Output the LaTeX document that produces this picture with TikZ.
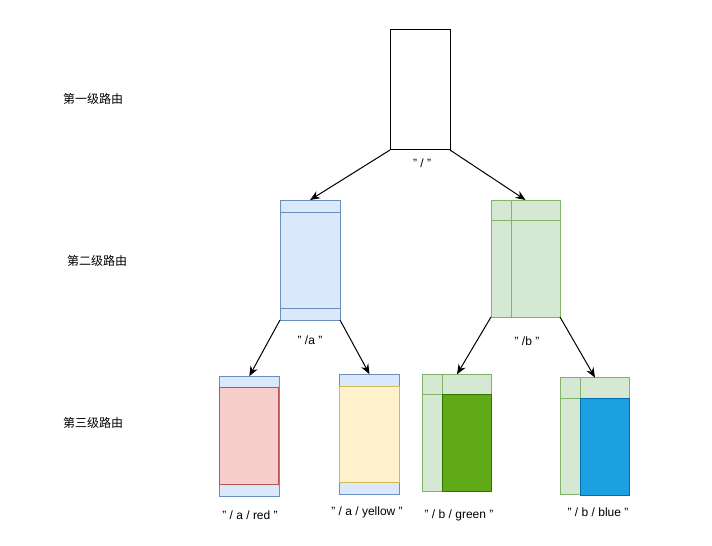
\documentclass[tikz,border=0pt]{standalone}
\usepackage{fontspec}
\setmainfont{Liberation Sans}
\newfontfamily\cjk{Noto Sans CJK SC}
\usetikzlibrary{calc,arrows.meta}
\definecolor{bluefill}{HTML}{DAE8FC}
\definecolor{bluedraw}{HTML}{6C8EBF}
\definecolor{greenfill}{HTML}{D5E8D4}
\definecolor{greendraw}{HTML}{82B366}
\definecolor{redfill}{HTML}{F8CECC}
\definecolor{reddraw}{HTML}{B85450}
\definecolor{yelfill}{HTML}{FFF2CC}
\definecolor{yeldraw}{HTML}{D6B656}
\definecolor{dgfill}{HTML}{60A917}
\definecolor{dgdraw}{HTML}{2D7600}
\definecolor{bbfill}{HTML}{1BA1E2}
\definecolor{bbdraw}{HTML}{006EAF}
\tikzset{
  box/.style={rectangle, draw, line width=0.75pt, inner sep=0pt, outer sep=0pt},
  bluebox/.style={box, draw=bluedraw, fill=bluefill},
  greenbox/.style={box, draw=greendraw, fill=greenfill},
  lbl/.style={font=\fontsize{9pt}{11pt}\selectfont, inner sep=1pt},
  cjklbl/.style={font=\cjk\fontsize{9pt}{11pt}\selectfont, inner sep=1pt},
  conn/.style={line width=0.75pt, -{Stealth[length=7.5pt,width=6pt]}},
}
\begin{document}
\begin{tikzpicture}[x=0.75pt,y=-0.75pt]
\useasboundingbox (0,0) rectangle (712,545);
% root
\node[box, draw=black, fill=white, minimum width=45pt, minimum height=90pt] (root) at (420,90) {};
\node[lbl] (rootl) at (422,163) {" / "};
% level 2
\node[bluebox, minimum width=45pt, minimum height=90pt] (A) at (310,260) {};
\draw[bluedraw, line width=0.75pt] ($(A.north west)+(0,12)$) -- ($(A.north east)+(0,12)$);
\draw[bluedraw, line width=0.75pt] ($(A.south west)+(0,-12)$) -- ($(A.south east)+(0,-12)$);
\node[lbl] (Al) at (310,340) {" /a "};
\node[greenbox, minimum width=51.75pt, minimum height=87.75pt] (B) at (525.5,258.5) {};
\draw[greendraw, line width=0.75pt] ($(B.north west)+(20,0)$) -- ($(B.south west)+(20,0)$);
\draw[greendraw, line width=0.75pt] ($(B.north west)+(0,20)$) -- ($(B.north east)+(0,20)$);
\node[lbl] (Bl) at (527,341) {" /b "};
% level 3: red
\node[bluebox, minimum width=45pt, minimum height=90pt] (R) at (249.3,436.2) {};
\node[box, draw=reddraw, fill=redfill, minimum width=44.25pt, minimum height=72.75pt] (Ri) at (249.3,435.5) {};
\node[lbl] (Rl) at (250,515) {" / a / red "};
% yellow
\node[bluebox, minimum width=45pt, minimum height=90pt] (Y) at (369.5,434.2) {};
\node[box, draw=yeldraw, fill=yelfill, minimum width=45pt, minimum height=72pt] (Yi) at (369.5,434.3) {};
\node[lbl] (Yl) at (367,512) {" / a / yellow "};
% green
\node[greenbox, minimum width=52pt, minimum height=88pt] (G) at (457,433) {};
\node[box, draw=dgdraw, fill=dgfill, minimum width=37pt, minimum height=73pt] (Gi) at (467,443) {};
\draw[greendraw, line width=0.75pt] (G.north west |- Gi.north) -- (Gi.north west);
\draw[greendraw, line width=0.75pt] (Gi.north west |- G.north) -- (Gi.north west);
\node[lbl] (Gl) at (459,515) {" / b / green "};
% blue
\node[greenbox, minimum width=52pt, minimum height=88pt] (U) at (595,436.3) {};
\node[box, draw=bbdraw, fill=bbfill, minimum width=37pt, minimum height=72.75pt] (Ui) at (605,446.5) {};
\draw[greendraw, line width=0.75pt] (U.north west |- Ui.north) -- (Ui.north west);
\draw[greendraw, line width=0.75pt] (Ui.north west |- U.north) -- (Ui.north west);
\node[lbl] (Ul) at (598,512) {" / b / blue "};
% left labels
\node[cjklbl] (L1) at (93,99) {第一级路由};
\node[cjklbl] (L2) at (97,261) {第二级路由};
\node[cjklbl] (L3) at (93,423) {第三级路由};
% connectors
\draw[conn] (root.south west) -- (A.north);
\draw[conn] (root.south east) -- (B.north);
\draw[conn] (A.south west) -- (R.north);
\draw[conn] (A.south east) -- (Y.north);
\draw[conn] (B.south west) -- (G.north);
\draw[conn] (B.south east) -- (U.north);
\end{tikzpicture}
\end{document}
